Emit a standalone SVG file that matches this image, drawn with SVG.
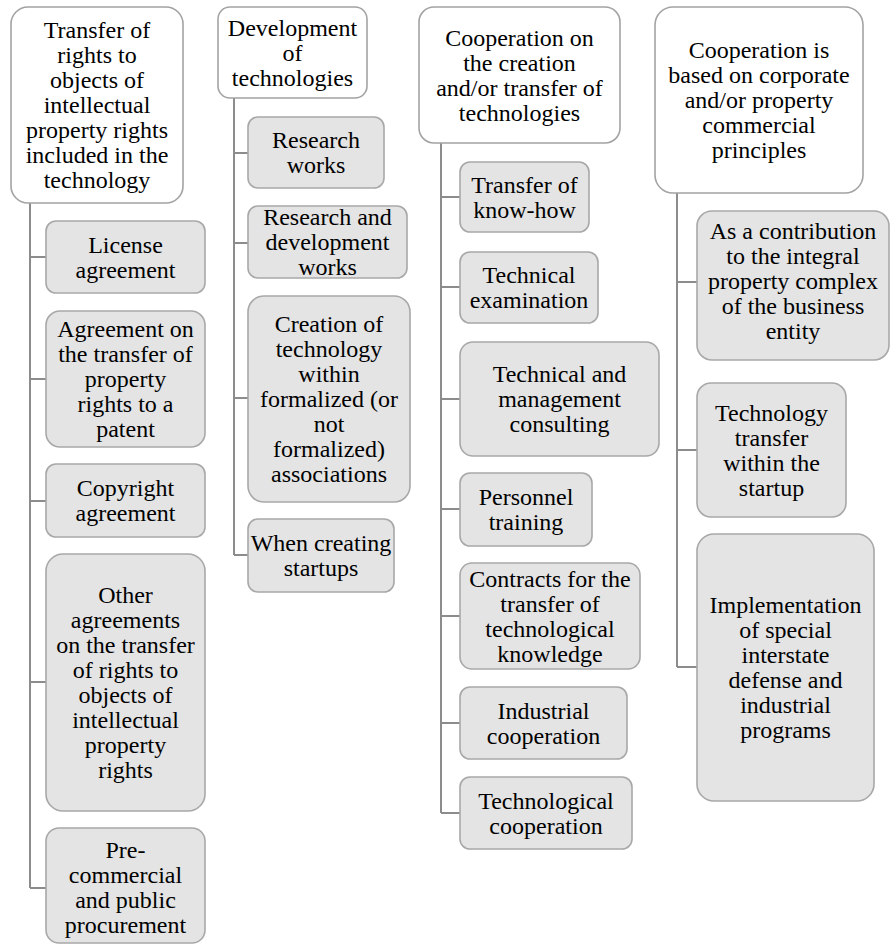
<svg xmlns="http://www.w3.org/2000/svg" width="890" height="945" viewBox="0 0 890 945">
<style>
text{font-family:"Liberation Serif","Times New Roman",serif;font-size:24px;fill:#000;text-anchor:middle}
.h{fill:#fff;stroke:#a3a3a3;stroke-width:1.6}
.c{fill:#e4e4e4;stroke:#a8a8a8;stroke-width:1.6}
.ln{fill:none;stroke:#8c8c8c;stroke-width:2}
</style>
<rect width="890" height="945" fill="#fff"/>
<g id="connectors">
<path class="ln" d="M30,203V888M30,257H46M30,379H46M30,501H46M30,682H46M30,888H46"/>
<path class="ln" d="M234,98V555M234,153H248M234,243H248M234,398H248M234,555H248"/>
<path class="ln" d="M441,143V813M441,197H460M441,287H460M441,399H460M441,509H460M441,616H460M441,723H460M441,813H460"/>
<path class="ln" d="M677,193V667M677,282H697M677,450H697M677,667H697"/>
</g>
<g id="h1"><rect class="h" x="11" y="7" width="172" height="196" rx="17"/>
<text><tspan x="97" y="37.5">Transfer of</tspan><tspan x="97" y="62.5">rights to</tspan><tspan x="97" y="87.5">objects of</tspan><tspan x="97" y="112.5">intellectual</tspan><tspan x="97" y="137.5">property rights</tspan><tspan x="97" y="162.5">included in the</tspan><tspan x="97" y="187.5">technology</tspan></text></g>
<g id="c1a"><rect class="c" x="46" y="221" width="159" height="72" rx="10"/>
<text><tspan x="125.5" y="252.5">License</tspan><tspan x="125.5" y="277.5">agreement</tspan></text></g>
<g id="c1b"><rect class="c" x="46" y="311" width="159" height="136" rx="14"/>
<text><tspan x="125.5" y="337">Agreement on</tspan><tspan x="125.5" y="362">the transfer of</tspan><tspan x="125.5" y="387">property</tspan><tspan x="125.5" y="412">rights to a</tspan><tspan x="125.5" y="437">patent</tspan></text></g>
<g id="c1c"><rect class="c" x="46" y="464" width="159" height="73" rx="10"/>
<text><tspan x="125.5" y="496">Copyright</tspan><tspan x="125.5" y="521">agreement</tspan></text></g>
<g id="c1d"><rect class="c" x="46" y="554" width="159" height="257" rx="17"/>
<text><tspan x="125.5" y="603">Other</tspan><tspan x="125.5" y="628">agreements</tspan><tspan x="125.5" y="653">on the transfer</tspan><tspan x="125.5" y="678">of rights to</tspan><tspan x="125.5" y="703">objects of</tspan><tspan x="125.5" y="728">intellectual</tspan><tspan x="125.5" y="753">property</tspan><tspan x="125.5" y="778">rights</tspan></text></g>
<g id="c1e"><rect class="c" x="46" y="828" width="159" height="115" rx="13"/>
<text><tspan x="125.5" y="858">Pre-</tspan><tspan x="125.5" y="883">commercial</tspan><tspan x="125.5" y="908">and public</tspan><tspan x="125.5" y="933">procurement</tspan></text></g>
<g id="h2"><rect class="h" x="218" y="7" width="149" height="91" rx="12"/>
<text><tspan x="292.5" y="35.5">Development</tspan><tspan x="292.5" y="60.5">of</tspan><tspan x="292.5" y="85.5">technologies</tspan></text></g>
<g id="c2a"><rect class="c" x="248" y="117" width="136" height="71" rx="10"/>
<text><tspan x="316" y="148">Research</tspan><tspan x="316" y="173">works</tspan></text></g>
<g id="c2b"><rect class="c" x="248" y="206" width="159" height="72" rx="10"/>
<text><tspan x="327.5" y="225">Research and</tspan><tspan x="327.5" y="250">development</tspan><tspan x="327.5" y="275">works</tspan></text></g>
<g id="c2c"><rect class="c" x="248" y="296" width="162" height="206" rx="16"/>
<text><tspan x="329" y="332">Creation of</tspan><tspan x="329" y="357">technology</tspan><tspan x="329" y="382">within</tspan><tspan x="329" y="407">formalized (or</tspan><tspan x="329" y="432">not</tspan><tspan x="329" y="457">formalized)</tspan><tspan x="329" y="482">associations</tspan></text></g>
<g id="c2d"><rect class="c" x="248" y="519" width="146" height="73" rx="10"/>
<text><tspan x="321" y="551">When creating</tspan><tspan x="321" y="576">startups</tspan></text></g>
<g id="h3"><rect class="h" x="419" y="7" width="201" height="136" rx="15"/>
<text><tspan x="519.5" y="45.5">Cooperation on</tspan><tspan x="519.5" y="70.5">the creation</tspan><tspan x="519.5" y="95.5">and/or transfer of</tspan><tspan x="519.5" y="120.5">technologies</tspan></text></g>
<g id="c3a"><rect class="c" x="460" y="162" width="129" height="70" rx="10"/>
<text><tspan x="524.5" y="192.5">Transfer of</tspan><tspan x="524.5" y="217.5">know-how</tspan></text></g>
<g id="c3b"><rect class="c" x="460" y="252" width="138" height="71" rx="10"/>
<text><tspan x="529" y="283">Technical</tspan><tspan x="529" y="308">examination</tspan></text></g>
<g id="c3c"><rect class="c" x="460" y="342" width="199" height="114" rx="13"/>
<text><tspan x="559.5" y="382">Technical and</tspan><tspan x="559.5" y="407">management</tspan><tspan x="559.5" y="432">consulting</tspan></text></g>
<g id="c3d"><rect class="c" x="460" y="473" width="132" height="73" rx="10"/>
<text><tspan x="526" y="505">Personnel</tspan><tspan x="526" y="530">training</tspan></text></g>
<g id="c3e"><rect class="c" x="460" y="563" width="180" height="106" rx="12"/>
<text><tspan x="550" y="586.5">Contracts for the</tspan><tspan x="550" y="611.5">transfer of</tspan><tspan x="550" y="636.5">technological</tspan><tspan x="550" y="661.5">knowledge</tspan></text></g>
<g id="c3f"><rect class="c" x="460" y="687" width="167" height="72" rx="10"/>
<text><tspan x="543.5" y="718.5">Industrial</tspan><tspan x="543.5" y="743.5">cooperation</tspan></text></g>
<g id="c3g"><rect class="c" x="460" y="777" width="172" height="72" rx="10"/>
<text><tspan x="546" y="808.5">Technological</tspan><tspan x="546" y="833.5">cooperation</tspan></text></g>
<g id="h4"><rect class="h" x="655" y="7" width="208" height="186" rx="18"/>
<text><tspan x="759" y="58">Cooperation is</tspan><tspan x="759" y="83">based on corporate</tspan><tspan x="759" y="108">and/or property</tspan><tspan x="759" y="133">commercial</tspan><tspan x="759" y="158">principles</tspan></text></g>
<g id="c4a"><rect class="c" x="697" y="211" width="192" height="149" rx="15"/>
<text><tspan x="793" y="239">As a contribution</tspan><tspan x="793" y="264">to the integral</tspan><tspan x="793" y="289">property complex</tspan><tspan x="793" y="314">of the business</tspan><tspan x="793" y="339">entity</tspan></text></g>
<g id="c4b"><rect class="c" x="697" y="383" width="149" height="134" rx="14"/>
<text><tspan x="771.5" y="420.5">Technology</tspan><tspan x="771.5" y="445.5">transfer</tspan><tspan x="771.5" y="470.5">within the</tspan><tspan x="771.5" y="495.5">startup</tspan></text></g>
<g id="c4c"><rect class="c" x="697" y="534" width="177" height="267" rx="17"/>
<text><tspan x="785.5" y="613">Implementation</tspan><tspan x="785.5" y="638">of special</tspan><tspan x="785.5" y="663">interstate</tspan><tspan x="785.5" y="688">defense and</tspan><tspan x="785.5" y="713">industrial</tspan><tspan x="785.5" y="738">programs</tspan></text></g>
</svg>
